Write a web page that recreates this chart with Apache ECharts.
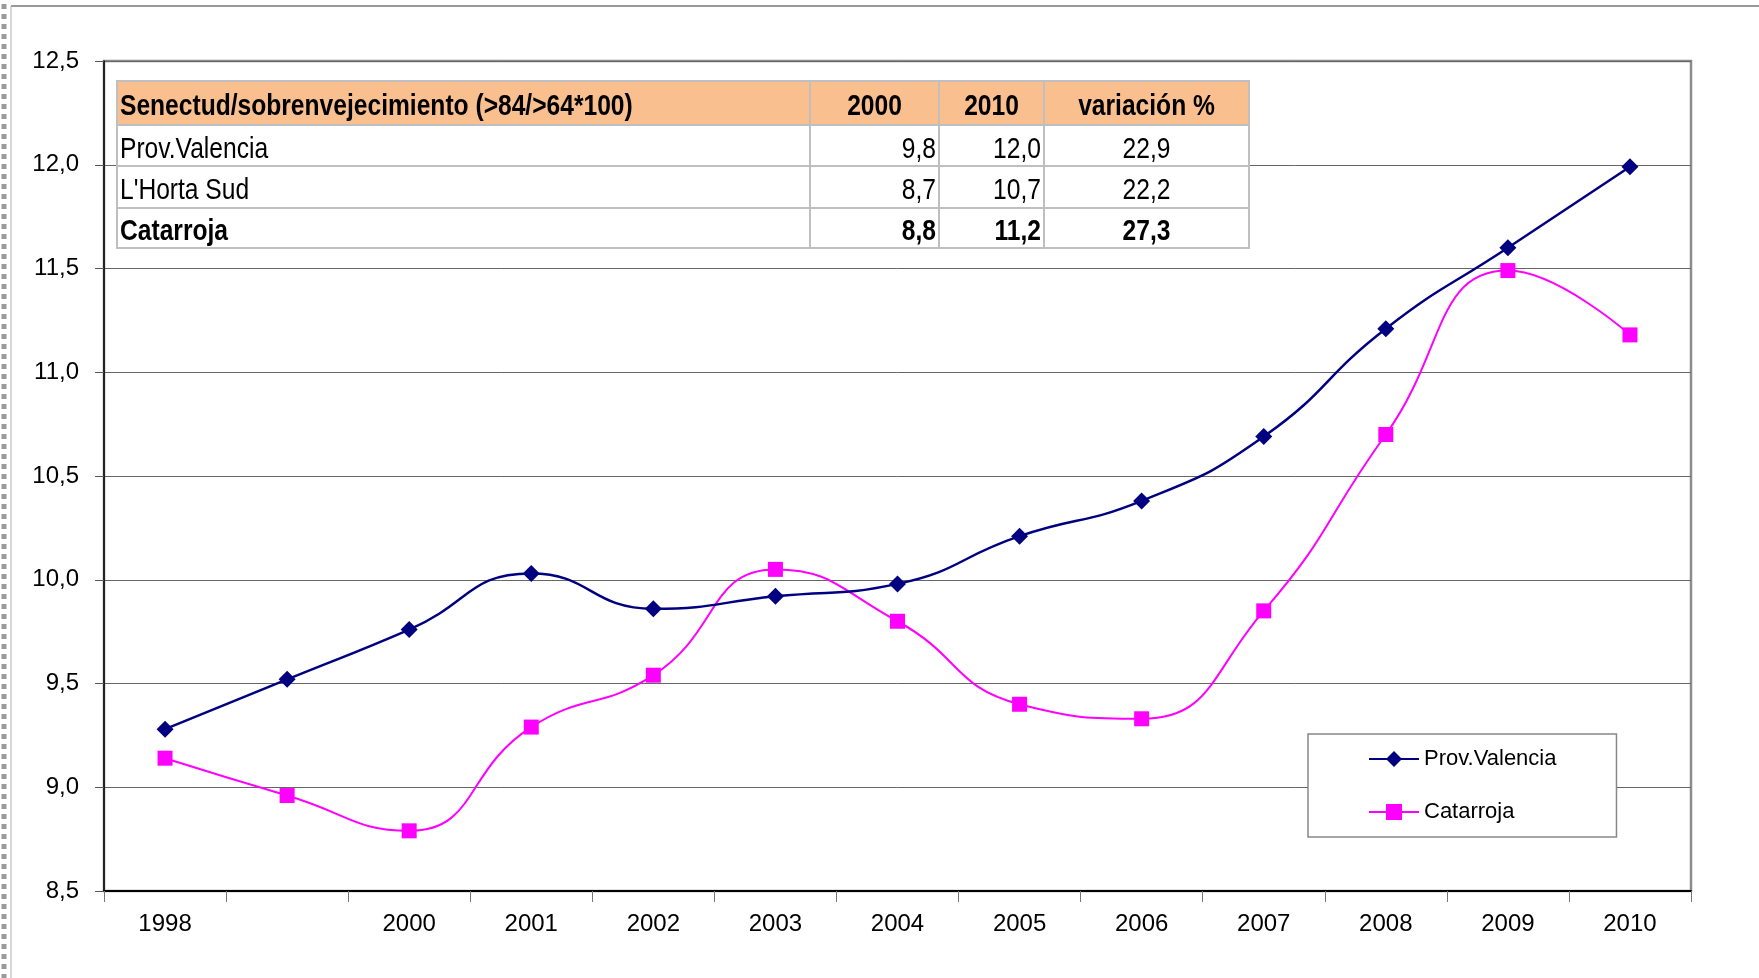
<!DOCTYPE html>
<html>
<head>
<meta charset="utf-8">
<title>Senectud</title>
<script src="https://cdn.jsdelivr.net/npm/echarts@6/dist/echarts.min.js"></script>
<style>
    html, body { margin: 0; padding: 0; background: #fff; }
    #chart { width: 1759px; height: 978px; }
</style>
</head>
<body>
<div id="chart"></div>
<script>
var years = ['1998', '', '2000', '2001', '2002', '2003', '2004', '2005', '2006', '2007', '2008', '2009', '2010'];
var provValencia = [9.28, 9.52, 9.76, 10.03, 9.86, 9.92, 9.98, 10.21, 10.38, 10.69, 11.21, 11.60, 11.99];
var catarroja = [9.14, 8.96, 8.79, 9.29, 9.54, 10.05, 9.80, 9.40, 9.33, 9.85, 10.70, 11.49, 11.18];

var tableHeader = ['Senectud/sobrenvejecimiento (>84/>64*100)', '2000', '2010', 'variación %'];
var tableNames = ['Prov.Valencia', "L'Horta Sud", 'Catarroja'];
var table2000 = [9.8, 8.7, 8.8];
var table2010 = [12.0, 10.7, 11.2];
var tableVariacion = [22.9, 22.2, 27.3];

var FONT = "'Liberation Sans Narrow', 'Arial Narrow', 'Liberation Sans', sans-serif";

function coma(v) {
    return v.toFixed(1).replace('.', ',');
}

// tabla dibujada con graphic
var colX = [117, 810, 939, 1044, 1249];
var rowY = [81, 125, 166, 208, 248];
var tabla = [];
for (var r = 0; r < 4; r++) {
    for (var c = 0; c < 4; c++) {
        tabla.push({
            type: 'rect',
            shape: { x: colX[c], y: rowY[r], width: colX[c + 1] - colX[c], height: rowY[r + 1] - rowY[r] },
            style: { fill: r === 0 ? '#FABF8F' : '#fff', stroke: '#BFBFBF', lineWidth: 2 },
            z: 10
        });
    }
}
function celda(text, c, r, align, bold) {
    var x;
    if (align === 'left') x = colX[c] + 3;
    else if (align === 'right') x = colX[c + 1] - 3;
    else x = (colX[c] + colX[c + 1]) / 2;
    tabla.push({
        type: 'text',
        x: x,
        y: (rowY[r] + rowY[r + 1]) / 2 + 4,
        scaleX: 0.82,
        style: {
            text: text,
            fill: '#000',
            font: (bold ? 'bold ' : '') + '30px ' + FONT,
            textAlign: align,
            textVerticalAlign: 'middle'
        },
        z: 11
    });
}
celda(tableHeader[0], 0, 0, 'left', true);
celda(tableHeader[1], 1, 0, 'center', true);
celda(tableHeader[2], 2, 0, 'center', true);
celda(tableHeader[3], 3, 0, 'center', true);
for (var i = 0; i < tableNames.length; i++) {
    var b = i === 2;
    celda(tableNames[i], 0, i + 1, 'left', b);
    celda(coma(table2000[i]), 1, i + 1, 'right', b);
    celda(coma(table2010[i]), 2, i + 1, 'right', b);
    celda(coma(tableVariacion[i]), 3, i + 1, 'center', b);
}

// marco exterior
tabla.push({
    type: 'line',
    shape: { x1: 11, y1: 6, x2: 1759, y2: 6 },
    style: { stroke: '#9a9a9a', lineWidth: 2 }
});
tabla.push({
    type: 'line',
    shape: { x1: 11, y1: 6, x2: 11, y2: 978 },
    style: { stroke: '#b0b0b0', lineWidth: 1 }
});
tabla.push({
    type: 'line',
    shape: { x1: 4, y1: 4, x2: 4, y2: 978 },
    style: { stroke: '#9a9a9a', lineWidth: 5, lineDash: [5, 5] }
});

var myChart = echarts.init(document.getElementById('chart'));
myChart.setOption({
    animation: false,
    backgroundColor: '#fff',
    textStyle: { fontFamily: FONT },
    grid: {
        left: 104,
        top: 61,
        width: 1587,
        height: 830,
        show: true,
        borderColor: '#8c8c8c',
        borderWidth: 2.5,
        backgroundColor: 'transparent'
    },
    legend: {
        orient: 'vertical',
        left: 1308,
        top: 734,
        padding: [14, 60, 14, 60],
        itemGap: 31,
        itemWidth: 50,
        itemHeight: 20,
        backgroundColor: '#fff',
        borderColor: '#888',
        borderWidth: 1.5,
        textStyle: { fontSize: 22, color: '#000', fontFamily: FONT },
        data: ['Prov.Valencia', 'Catarroja'],
        z: 12
    },
    xAxis: {
        type: 'category',
        data: years,
        boundaryGap: true,
        axisLine: { lineStyle: { color: '#000', width: 2 } },
        axisTick: { show: true, length: 11, lineStyle: { color: '#777', width: 1 } },
        axisLabel: { fontSize: 24, color: '#000', margin: 21, interval: 0 },
        splitLine: { show: false }
    },
    yAxis: {
        type: 'value',
        min: 8.5,
        max: 12.5,
        interval: 0.5,
        axisLine: { show: true, lineStyle: { color: '#000', width: 1.5 } },
        axisTick: { show: true, length: 9, lineStyle: { color: '#555' } },
        axisLabel: {
            fontSize: 24,
            color: '#000',
            margin: 25,
            formatter: function (v) { return coma(v); }
        },
        splitLine: { show: true, lineStyle: { color: '#666', width: 1 } }
    },
    series: [
        {
            name: 'Prov.Valencia',
            type: 'line',
            data: provValencia,
            smooth: 0.5,
            symbol: 'diamond',
            symbolSize: 17,
            lineStyle: { color: '#000080', width: 2.5 },
            itemStyle: { color: '#000080' },
            z: 3
        },
        {
            name: 'Catarroja',
            type: 'line',
            data: catarroja,
            smooth: 0.5,
            symbol: 'rect',
            symbolSize: 15,
            lineStyle: { color: '#FF00FF', width: 2 },
            itemStyle: { color: '#FF00FF' },
            z: 2
        }
    ],
    graphic: tabla
});
</script>
</body>
</html>
